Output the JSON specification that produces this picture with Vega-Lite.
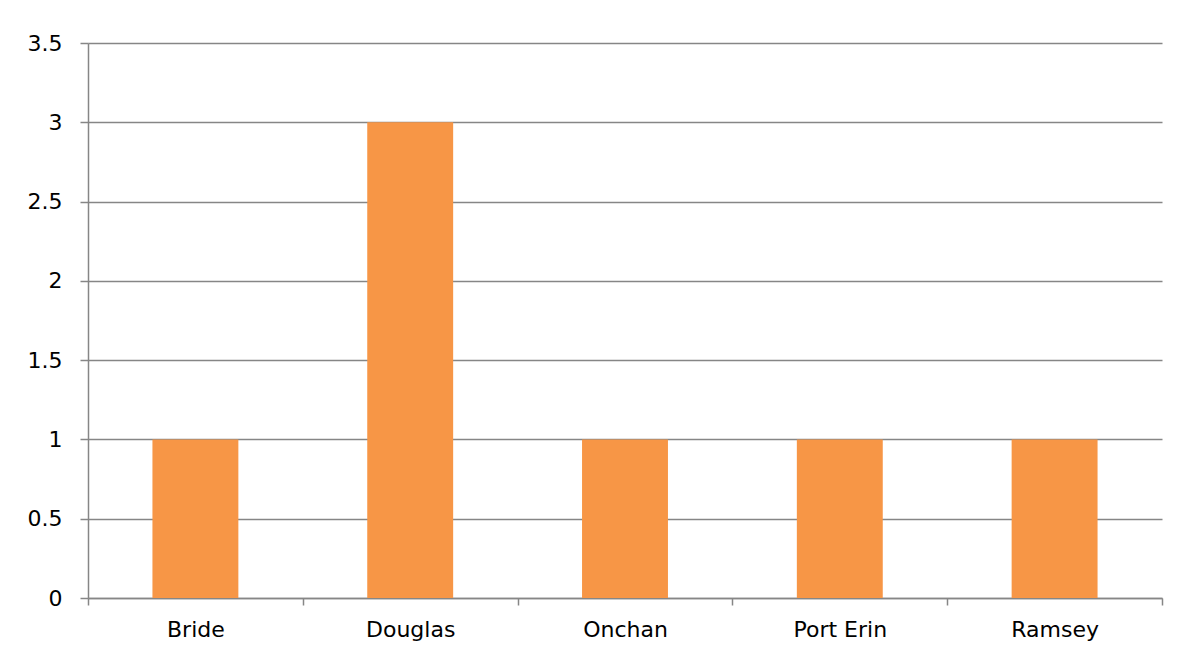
{
  "$schema": "https://vega.github.io/schema/vega-lite/v6.json",
  "width": 1074,
  "height": 555,
  "autosize": {"type": "none"},
  "padding": {"left": 88, "top": 43, "right": 25, "bottom": 57},
  "background": "white",
  "config": {
    "view": {"stroke": null},
    "font": "DejaVu Sans"
  },
  "data": {
    "values": [
      {"town": "Bride", "count": 1},
      {"town": "Douglas", "count": 3},
      {"town": "Onchan", "count": 1},
      {"town": "Port Erin", "count": 1},
      {"town": "Ramsey", "count": 1}
    ]
  },
  "mark": {"type": "bar", "color": "#F79646", "width": {"band": 0.4}},
  "encoding": {
    "x": {
      "field": "town",
      "type": "nominal",
      "sort": null,
      "scale": {"paddingInner": 0, "paddingOuter": 0},
      "axis": {
        "title": null,
        "labelAngle": 0,
        "tickBand": "extent",
        "domainColor": "#868686",
        "domainWidth": 1.5,
        "tickColor": "#868686",
        "tickWidth": 1.5,
        "tickSize": 7,
        "labelPadding": 14,
        "labelFontSize": 22,
        "labelColor": "#000000",
        "labelFont": "DejaVu Sans",
        "grid": false
      }
    },
    "y": {
      "field": "count",
      "type": "quantitative",
      "scale": {"domain": [0, 3.5], "nice": false},
      "axis": {
        "title": null,
        "values": [0, 0.5, 1, 1.5, 2, 2.5, 3, 3.5],
        "format": "~g",
        "grid": true,
        "gridColor": "#868686",
        "gridWidth": 1.5,
        "domainColor": "#868686",
        "domainWidth": 1.5,
        "tickColor": "#868686",
        "tickWidth": 1.5,
        "tickSize": 8,
        "labelPadding": 18,
        "labelFontSize": 22,
        "labelColor": "#000000",
        "labelFont": "DejaVu Sans"
      }
    }
  }
}
